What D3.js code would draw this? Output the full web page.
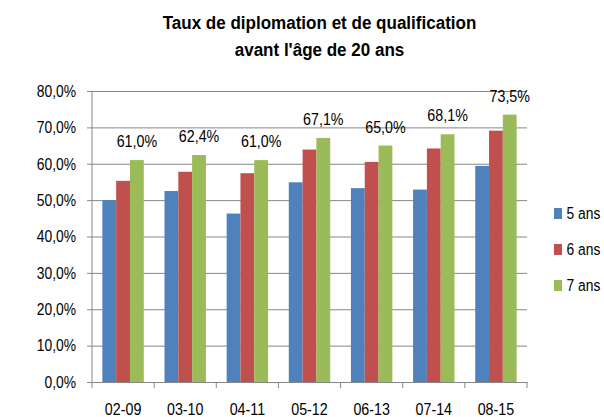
<!DOCTYPE html>
<html>
<head>
<meta charset="utf-8">
<script src="https://cdn.jsdelivr.net/npm/d3@7"></script>
<style>
body { margin: 0; background: #fff; }
svg text { font-family: "Liberation Sans", Arial, sans-serif; fill: #000; }
</style>
</head>
<body>
<div id="viz"></div>
<script>
var categories = ["02-09", "03-10", "04-11", "05-12", "06-13", "07-14", "08-15"];
var seriesNames = ["5 ans", "6 ans", "7 ans"];
var colors = ["#4F81BD", "#C0504D", "#9BBB59"];
var ans5 = [50.0, 52.5, 46.3, 54.9, 53.3, 52.9, 59.4];
var ans6 = [55.3, 57.8, 57.4, 63.9, 60.5, 64.2, 69.1];
var ans7 = [61.0, 62.4, 61.0, 67.1, 65.0, 68.1, 73.5];
var yTicks = [0, 10, 20, 30, 40, 50, 60, 70, 80];
var titleLines = ["Taux de diplomation et de qualification", "avant l'âge de 20 ans"];

var width = 604, height = 417;
var margin = {top: 91, right: 77, bottom: 35, left: 92};
var gridColor = "#878787";
var squeezeX = 0.84;

var values = [ans5, ans6, ans7];

var svg = d3.select("#viz").append("svg")
    .attr("width", width)
    .attr("height", height);

var x = d3.scaleBand().domain(categories).range([margin.left, width - margin.right]);
var barW = x.step() / 4.5;
var x1 = d3.scaleBand().domain(d3.range(3)).range([0, 3 * barW]);
var y = d3.scaleLinear().domain([0, 80]).range([height - margin.bottom, margin.top]);

function fmt(v) { return v.toFixed(1).replace(".", ",") + "%"; }

// text in the original is a narrow face, so squeeze it horizontally
function squeeze(sel, sx) {
    sel.each(function() {
        var t = d3.select(this);
        var tx = +t.attr("x") || 0, ty = +t.attr("y") || 0;
        t.attr("x", 0).attr("y", 0)
         .attr("transform", "translate(" + tx + "," + ty + ") scale(" + sx + ",1)");
    });
}

// gridlines + y axis
var yAxis = d3.axisLeft(y).tickValues(yTicks).tickFormat(fmt)
    .tickSize(-(width - margin.right - margin.left)).tickSizeOuter(0).tickPadding(11);
var gy = svg.append("g").attr("transform", "translate(" + margin.left + ",0)").call(yAxis);
gy.select(".domain").remove();
gy.selectAll(".tick line").attr("stroke", gridColor).attr("x1", -5);
gy.selectAll(".tick text").attr("font-size", "16.5px").attr("font-family", null)
    .attr("x", -16).call(squeeze, squeezeX);
svg.append("line")
    .attr("x1", margin.left).attr("x2", margin.left)
    .attr("y1", y(80)).attr("y2", y(0))
    .attr("stroke", gridColor);

// bars
var groups = svg.append("g").selectAll("g")
    .data(categories)
    .join("g")
    .attr("transform", function(d) { return "translate(" + (x(d) + (x.step() - 3 * barW) / 2) + ",0)"; });

groups.selectAll("rect")
    .data(function(d, i) { return values.map(function(s, k) { return {k: k, v: s[i]}; }); })
    .join("rect")
    .attr("x", function(d) { return x1(d.k); })
    .attr("width", x1.bandwidth())
    .attr("y", function(d) { return y(d.v); })
    .attr("height", function(d) { return y(0) - y(d.v); })
    .attr("fill", function(d) { return colors[d.k]; });

// data labels on 7 ans
groups.append("text")
    .attr("x", x1(2) + barW / 2)
    .attr("y", function(d, i) { return y(ans7[i]) - 13; })
    .attr("text-anchor", "middle")
    .attr("font-size", "17px")
    .text(function(d, i) { return fmt(ans7[i]); })
    .call(squeeze, squeezeX);

// x axis
var xAxis = d3.axisBottom(x).tickSize(0);
var gx = svg.append("g").attr("transform", "translate(0," + y(0) + ")").call(xAxis);
gx.select(".domain").attr("stroke", gridColor);
gx.selectAll(".tick text").attr("font-size", "17px").attr("font-family", null)
    .attr("dy", null).attr("y", 33).call(squeeze, squeezeX);
var bounds = categories.map(function(c) { return x(c); }).concat([x.range()[1]]);
gx.selectAll(".sep").data(bounds).join("line")
    .attr("x1", function(d) { return d; }).attr("x2", function(d) { return d; })
    .attr("y1", 0).attr("y2", 6)
    .attr("stroke", gridColor);

// legend
var legend = svg.append("g").selectAll("g")
    .data(seriesNames)
    .join("g")
    .attr("transform", function(d, i) { return "translate(554," + (219 + i * 36) + ")"; });
legend.append("rect")
    .attr("x", 0).attr("y", -11)
    .attr("width", 8).attr("height", 11)
    .attr("fill", function(d, i) { return colors[i]; });
legend.append("text")
    .attr("x", 12.5).attr("y", 0)
    .attr("font-size", "16.5px")
    .text(function(d) { return d; })
    .call(squeeze, squeezeX);

// title, fitted to the width of the original first line
var title = svg.append("g").selectAll("text")
    .data(titleLines)
    .join("text")
    .attr("x", 319.5)
    .attr("y", function(d, i) { return i ? 56 : 28.5; })
    .attr("text-anchor", "middle")
    .attr("font-size", "18.5px")
    .attr("font-weight", "bold")
    .text(function(d) { return d; });
var titleScale = 314 / title.nodes()[0].getComputedTextLength();
title.call(squeeze, titleScale);
</script>
</body>
</html>
